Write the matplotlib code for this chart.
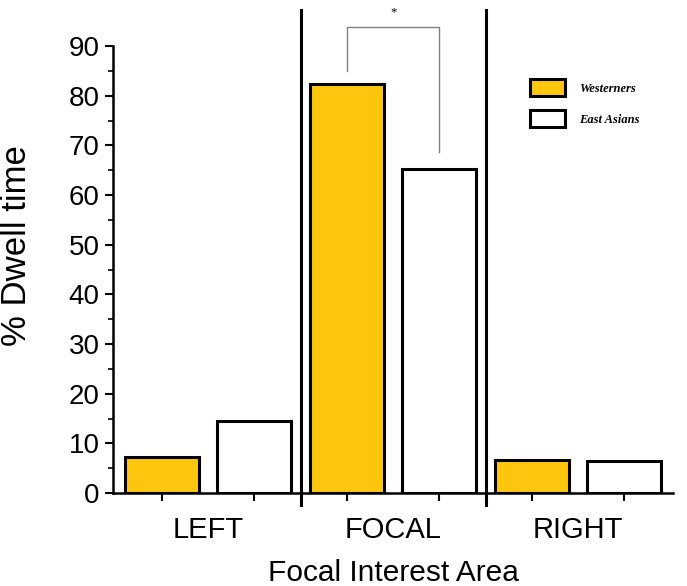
import numpy as np
import matplotlib.pyplot as plt
from matplotlib.ticker import MultipleLocator

categories = ['LEFT', 'FOCAL', 'RIGHT']
westerners = [7.3, 82.3, 6.6]
east_asians = [14.5, 65.2, 6.4]
group_names = ['Westerners', 'East Asians']

YELLOW = '#FCC60F'

plt.rcParams['font.family'] = ['Liberation Sans', 'DejaVu Sans']

fig = plt.figure(figsize=(6.87, 5.86), dpi=100)
ax = fig.add_axes([0.1645, 0.1587, 0.8155, 0.7628])

# bars: each category gets two slots, one per group
pos_w = np.arange(len(categories)) * 2
pos_e = pos_w + 1
bw = 0.8
ax.bar(pos_w, westerners, width=bw, color=YELLOW, edgecolor='black',
       linewidth=2.2, label=group_names[0], zorder=3)
ax.bar(pos_e, east_asians, width=bw, color='white', edgecolor='black',
       linewidth=2.2, label=group_names[1], zorder=3)

ax.set_xlim(-0.53, 5.53)
ax.set_ylim(0, 90)

# separators between categories
for xs in [1.5, 3.5]:
    ax.plot([xs, xs], [-2.4, 97.2], color='black', linewidth=2.2,
            clip_on=False, zorder=4)

# significance bracket on FOCAL
bx0, bx1 = pos_w[1], pos_e[1]
ax.plot([bx0, bx0, bx1, bx1], [85.0, 93.8, 93.8, 68.6], color='#808080',
        linewidth=1.0, clip_on=False)
ax.text((bx0 + bx1) / 2, 96.8, '*', ha='center', va='center', fontsize=9,
        family='Liberation Serif', clip_on=False)

# spines
for s in ['top', 'right']:
    ax.spines[s].set_visible(False)
for s in ['left', 'bottom']:
    ax.spines[s].set_linewidth(1.8)

# y axis ticks
ax.yaxis.set_major_locator(MultipleLocator(10))
ax.yaxis.set_minor_locator(MultipleLocator(5))
ax.tick_params(axis='y', which='major', length=5.5, width=1.5, labelsize=20, pad=4)
ax.tick_params(axis='y', which='minor', length=3.5, width=1.2)

# x axis: ticks under bars, category labels between pairs
ax.set_xticks(np.concatenate([pos_w, pos_e]))
ax.set_xticklabels([])
ax.tick_params(axis='x', which='major', length=6, width=1.5)
for i, c in enumerate(categories):
    ax.text((pos_w[i] + pos_e[i]) / 2, -0.052, c, transform=ax.get_xaxis_transform(),
            ha='center', va='top', fontsize=21)

ax.set_ylabel('% Dwell time', fontsize=25)
ax.yaxis.set_label_coords(-0.143, 0.553)
ax.set_xlabel('Focal Interest Area', fontsize=21.5)
ax.xaxis.set_label_coords(0.5, -0.148)

ax.legend(loc='upper left', bbox_to_anchor=(530 / 687, 1 - 79 / 586),
          bbox_transform=fig.transFigure, frameon=False, borderpad=0,
          borderaxespad=0, handlelength=2.8, handleheight=1.76,
          labelspacing=1.1, handletextpad=1.1,
          prop={'family': 'Liberation Serif', 'style': 'italic',
                'weight': 'bold', 'size': 9})

fig.savefig('out.png', dpi=100)
